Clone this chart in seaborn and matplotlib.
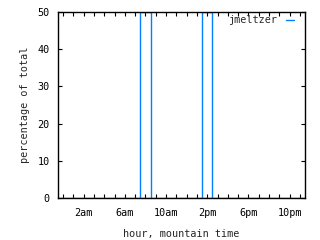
import matplotlib
matplotlib.use("Agg")
import matplotlib.pyplot as plt
import seaborn as sns
import numpy as np
import pandas as pd
from matplotlib.lines import Line2D

hours = [8, 14]
percent = [50, 50]
tick_hours = [2, 6, 10, 14, 18, 22]
tick_labels = ["2am", "6am", "10am", "2pm", "6pm", "10pm"]
series_name = "jmeltzer"

sns.set_style("white")
plt.rcParams['font.family'] = ['DejaVu Sans Mono', 'DejaVu Sans']

df = pd.DataFrame({"hour": hours, "percent": percent})
color = "#0080ff"

fig = plt.figure(figsize=(3.2, 2.4), dpi=100)
ax = fig.add_axes([58/320, 1-198/240, (305-58)/320, (198-12)/240])

sns.histplot(data=df, x="hour", weights="percent", binwidth=1, binrange=(-0.5, 23.5),
             element="bars", fill=False, color=color, linewidth=1.0, ax=ax)

ax.set_xlim(-0.5, 23.5)
ax.set_ylim(0, 50)
ax.set_xticks(tick_hours)
ax.set_xticklabels(tick_labels)
ax.set_xticks(np.arange(0, 24, 1), minor=True)
ax.set_yticks([0, 10, 20, 30, 40, 50])
ax.tick_params(axis='both', which='both', direction='in', top=True, right=True,
               bottom=True, left=True,
               length=3, width=0.8, labelsize=7.3, colors='black')
ax.tick_params(axis='x', which='major', pad=7)
ax.tick_params(axis='y', which='major', pad=6)
for s in ax.spines.values():
    s.set_visible(True)
    s.set_color('black')
    s.set_linewidth(1.0)
    s.set_zorder(5)
ax.set_xlabel("hour, mountain time", fontsize=7.3, labelpad=8)
ax.set_ylabel("percentage of total", fontsize=7.3, labelpad=5)

handle = Line2D([0], [0], color=color, linewidth=1.0)
leg = ax.legend([handle], [series_name], loc='upper right', frameon=False,
                fontsize=7.3, markerfirst=False, handlelength=0.8,
                handletextpad=0.9, borderaxespad=0.2, borderpad=0.9,
                bbox_to_anchor=(1.0, 1.043))

fig.savefig("out.png", dpi=100)
